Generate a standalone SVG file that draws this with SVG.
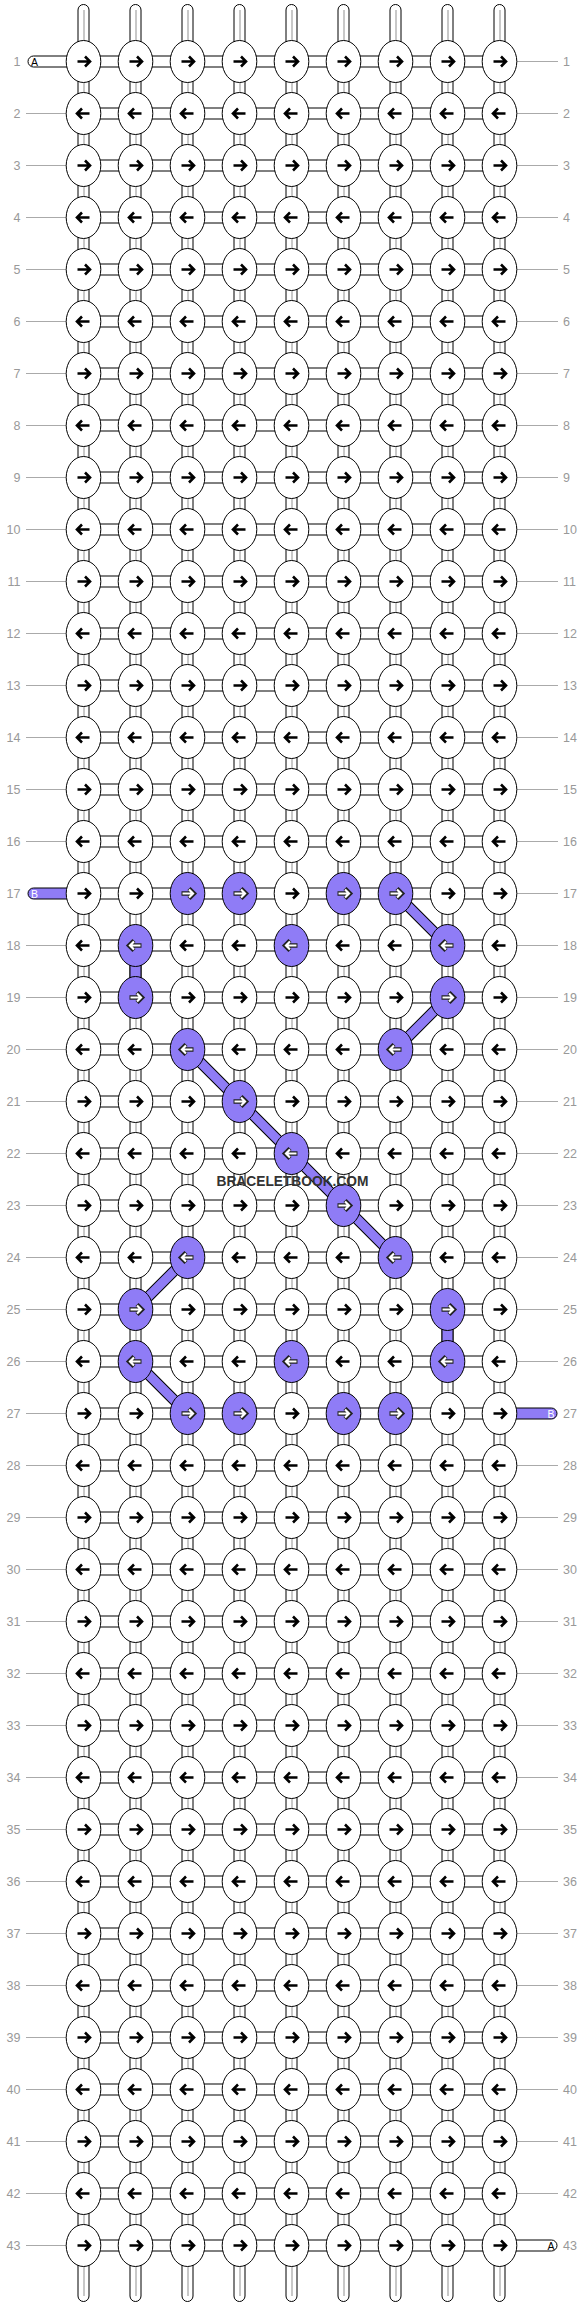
<svg xmlns="http://www.w3.org/2000/svg" xmlns:xlink="http://www.w3.org/1999/xlink" width="584" height="2308" viewBox="0 0 584 2308">
<style>
.kw{fill:#fff;stroke:#000;stroke-width:1}
.kp{fill:#8f7cf6;stroke:#000;stroke-width:1}
.aw{fill:none;stroke:#000;stroke-width:2.6}
.ao{fill:none;stroke:#222;stroke-width:4.4}
.ai{fill:none;stroke:#fff;stroke-width:2.2}
.tube{fill:#fff;stroke:#000;stroke-width:1}
.core{stroke:#c8c8c8;stroke-width:2}
.hc{fill:#fff;stroke:#000;stroke-width:1}
.gl{stroke:#aaa;stroke-width:1}
.lb{font-family:"Liberation Sans",Arial,sans-serif;font-size:12.5px;fill:#999}
.lbl{text-anchor:end}
.dgo{stroke:#000;stroke-width:11;stroke-linecap:butt}
.dgi{stroke:#8f7cf6;stroke-width:9;stroke-linecap:butt}
.pv{fill:#8f7cf6;stroke:#000;stroke-width:1}
.tl{font-family:"Liberation Sans",Arial,sans-serif;font-size:10.5px}
.wm{font-family:"Liberation Sans",Arial,sans-serif;font-weight:bold;font-size:14.5px;fill:#333;text-anchor:middle}
</style>
<defs>
<g id="R"><ellipse class="kw" rx="17.3" ry="21"/><path class="aw" d="M-6,0H6.5M1.5,-5L6.5,0L1.5,5"/></g>
<g id="L"><ellipse class="kw" rx="17.3" ry="21"/><path class="aw" d="M6,0H-6.5M-1.5,-5L-6.5,0L-1.5,5"/></g>
<g id="PR"><ellipse class="kp" rx="17.3" ry="21"/><path class="ao" d="M-6,0H6.5M1.5,-5L6.5,0L1.5,5"/><path class="ai" d="M-5,0H5.5M1.5,-4L5.5,0L1.5,4"/></g>
<g id="PL"><ellipse class="kp" rx="17.3" ry="21"/><path class="ao" d="M6,0H-6.5M-1.5,-5L-6.5,0L-1.5,5"/><path class="ai" d="M5,0H-5.5M-1.5,-4L-5.5,0L-1.5,4"/></g>
</defs>
<rect width="584" height="2308" fill="#fff"/>
<g id="connectors">
<g id="strands">
<rect class="tube" x="78" y="4.5" width="11" height="2297" rx="5.5"/>
<rect class="tube" x="130" y="4.5" width="11" height="2297" rx="5.5"/>
<rect class="tube" x="182" y="4.5" width="11" height="2297" rx="5.5"/>
<rect class="tube" x="234" y="4.5" width="11" height="2297" rx="5.5"/>
<rect class="tube" x="286" y="4.5" width="11" height="2297" rx="5.5"/>
<rect class="tube" x="338" y="4.5" width="11" height="2297" rx="5.5"/>
<rect class="tube" x="390" y="4.5" width="11" height="2297" rx="5.5"/>
<rect class="tube" x="442" y="4.5" width="11" height="2297" rx="5.5"/>
<rect class="tube" x="494" y="4.5" width="11" height="2297" rx="5.5"/>
<path class="core" d="M84,10V2296M136,10V2296M188,10V2296M240,10V2296M292,10V2296M344,10V2296M396,10V2296M448,10V2296M500,10V2296"/>
</g>
<g id="hconn">
<rect class="hc" x="83.5" y="56" width="416" height="11"/>
<rect class="hc" x="83.5" y="108" width="416" height="11"/>
<rect class="hc" x="83.5" y="160" width="416" height="11"/>
<rect class="hc" x="83.5" y="212" width="416" height="11"/>
<rect class="hc" x="83.5" y="264" width="416" height="11"/>
<rect class="hc" x="83.5" y="316" width="416" height="11"/>
<rect class="hc" x="83.5" y="368" width="416" height="11"/>
<rect class="hc" x="83.5" y="420" width="416" height="11"/>
<rect class="hc" x="83.5" y="472" width="416" height="11"/>
<rect class="hc" x="83.5" y="524" width="416" height="11"/>
<rect class="hc" x="83.5" y="576" width="416" height="11"/>
<rect class="hc" x="83.5" y="628" width="416" height="11"/>
<rect class="hc" x="83.5" y="680" width="416" height="11"/>
<rect class="hc" x="83.5" y="732" width="416" height="11"/>
<rect class="hc" x="83.5" y="784" width="416" height="11"/>
<rect class="hc" x="83.5" y="836" width="416" height="11"/>
<rect class="hc" x="83.5" y="888" width="416" height="11"/>
<rect class="hc" x="83.5" y="940" width="416" height="11"/>
<rect class="hc" x="83.5" y="992" width="416" height="11"/>
<rect class="hc" x="83.5" y="1044" width="416" height="11"/>
<rect class="hc" x="83.5" y="1096" width="416" height="11"/>
<rect class="hc" x="83.5" y="1148" width="416" height="11"/>
<rect class="hc" x="83.5" y="1200" width="416" height="11"/>
<rect class="hc" x="83.5" y="1252" width="416" height="11"/>
<rect class="hc" x="83.5" y="1304" width="416" height="11"/>
<rect class="hc" x="83.5" y="1356" width="416" height="11"/>
<rect class="hc" x="83.5" y="1408" width="416" height="11"/>
<rect class="hc" x="83.5" y="1460" width="416" height="11"/>
<rect class="hc" x="83.5" y="1512" width="416" height="11"/>
<rect class="hc" x="83.5" y="1564" width="416" height="11"/>
<rect class="hc" x="83.5" y="1616" width="416" height="11"/>
<rect class="hc" x="83.5" y="1668" width="416" height="11"/>
<rect class="hc" x="83.5" y="1720" width="416" height="11"/>
<rect class="hc" x="83.5" y="1772" width="416" height="11"/>
<rect class="hc" x="83.5" y="1824" width="416" height="11"/>
<rect class="hc" x="83.5" y="1876" width="416" height="11"/>
<rect class="hc" x="83.5" y="1928" width="416" height="11"/>
<rect class="hc" x="83.5" y="1980" width="416" height="11"/>
<rect class="hc" x="83.5" y="2032" width="416" height="11"/>
<rect class="hc" x="83.5" y="2084" width="416" height="11"/>
<rect class="hc" x="83.5" y="2136" width="416" height="11"/>
<rect class="hc" x="83.5" y="2188" width="416" height="11"/>
<rect class="hc" x="83.5" y="2240" width="416" height="11"/>
</g>
<g id="tails">
<rect class="tube" x="28" y="56" width="60" height="11" rx="5.5"/>
<text class="tl" x="31" y="65.5" fill="#000">A</text>
<rect class="pv" x="28" y="888" width="60" height="11" rx="5.5"/>
<text class="tl" x="31" y="897.5" fill="#fff">B</text>
<rect class="pv" x="495" y="1408" width="62" height="11" rx="5.5"/>
<text class="tl" x="554.5" y="1417.5" fill="#fff" text-anchor="end">B</text>
<rect class="tube" x="495" y="2240" width="62" height="11" rx="5.5"/>
<text class="tl" x="554.5" y="2249.5" fill="#000" text-anchor="end">A</text>
</g>
<g id="purple-path">
<rect class="pv" x="130" y="945.5" width="11" height="52"/>
<rect class="pv" x="442" y="1309.5" width="11" height="52"/>
<path class="dgo" d="M395.5,893.5L447.5,945.5M447.5,997.5L395.5,1049.5M187.5,1049.5L395.5,1257.5M187.5,1257.5L135.5,1309.5M135.5,1361.5L187.5,1413.5"/>
<path class="dgi" d="M395.5,893.5L447.5,945.5M447.5,997.5L395.5,1049.5M187.5,1049.5L395.5,1257.5M187.5,1257.5L135.5,1309.5M135.5,1361.5L187.5,1413.5"/>
</g>
<g id="label-lines">
<path class="gl" d="M26,113.5H66M26,165.5H66M26,217.5H66M26,269.5H66M26,321.5H66M26,373.5H66M26,425.5H66M26,477.5H66M26,529.5H66M26,581.5H66M26,633.5H66M26,685.5H66M26,737.5H66M26,789.5H66M26,841.5H66M26,945.5H66M26,997.5H66M26,1049.5H66M26,1101.5H66M26,1153.5H66M26,1205.5H66M26,1257.5H66M26,1309.5H66M26,1361.5H66M26,1413.5H66M26,1465.5H66M26,1517.5H66M26,1569.5H66M26,1621.5H66M26,1673.5H66M26,1725.5H66M26,1777.5H66M26,1829.5H66M26,1881.5H66M26,1933.5H66M26,1985.5H66M26,2037.5H66M26,2089.5H66M26,2141.5H66M26,2193.5H66M26,2245.5H66"/>
<path class="gl" d="M517,61.5H558M517,113.5H558M517,165.5H558M517,217.5H558M517,269.5H558M517,321.5H558M517,373.5H558M517,425.5H558M517,477.5H558M517,529.5H558M517,581.5H558M517,633.5H558M517,685.5H558M517,737.5H558M517,789.5H558M517,841.5H558M517,893.5H558M517,945.5H558M517,997.5H558M517,1049.5H558M517,1101.5H558M517,1153.5H558M517,1205.5H558M517,1257.5H558M517,1309.5H558M517,1361.5H558M517,1465.5H558M517,1517.5H558M517,1569.5H558M517,1621.5H558M517,1673.5H558M517,1725.5H558M517,1777.5H558M517,1829.5H558M517,1881.5H558M517,1933.5H558M517,1985.5H558M517,2037.5H558M517,2089.5H558M517,2141.5H558M517,2193.5H558"/>
</g>
</g>
<g id="labels" class="lb">
<g class="lbl">
<text x="20.5" y="66">1</text><text x="20.5" y="118">2</text><text x="20.5" y="170">3</text><text x="20.5" y="222">4</text><text x="20.5" y="274">5</text><text x="20.5" y="326">6</text><text x="20.5" y="378">7</text><text x="20.5" y="430">8</text><text x="20.5" y="482">9</text><text x="20.5" y="534">10</text><text x="20.5" y="586">11</text><text x="20.5" y="638">12</text><text x="20.5" y="690">13</text><text x="20.5" y="742">14</text><text x="20.5" y="794">15</text><text x="20.5" y="846">16</text><text x="20.5" y="898">17</text><text x="20.5" y="950">18</text><text x="20.5" y="1002">19</text><text x="20.5" y="1054">20</text><text x="20.5" y="1106">21</text><text x="20.5" y="1158">22</text><text x="20.5" y="1210">23</text><text x="20.5" y="1262">24</text><text x="20.5" y="1314">25</text><text x="20.5" y="1366">26</text><text x="20.5" y="1418">27</text><text x="20.5" y="1470">28</text><text x="20.5" y="1522">29</text><text x="20.5" y="1574">30</text><text x="20.5" y="1626">31</text><text x="20.5" y="1678">32</text><text x="20.5" y="1730">33</text><text x="20.5" y="1782">34</text><text x="20.5" y="1834">35</text><text x="20.5" y="1886">36</text><text x="20.5" y="1938">37</text><text x="20.5" y="1990">38</text><text x="20.5" y="2042">39</text><text x="20.5" y="2094">40</text><text x="20.5" y="2146">41</text><text x="20.5" y="2198">42</text><text x="20.5" y="2250">43</text>
</g>
<g>
<text x="563" y="66">1</text><text x="563" y="118">2</text><text x="563" y="170">3</text><text x="563" y="222">4</text><text x="563" y="274">5</text><text x="563" y="326">6</text><text x="563" y="378">7</text><text x="563" y="430">8</text><text x="563" y="482">9</text><text x="563" y="534">10</text><text x="563" y="586">11</text><text x="563" y="638">12</text><text x="563" y="690">13</text><text x="563" y="742">14</text><text x="563" y="794">15</text><text x="563" y="846">16</text><text x="563" y="898">17</text><text x="563" y="950">18</text><text x="563" y="1002">19</text><text x="563" y="1054">20</text><text x="563" y="1106">21</text><text x="563" y="1158">22</text><text x="563" y="1210">23</text><text x="563" y="1262">24</text><text x="563" y="1314">25</text><text x="563" y="1366">26</text><text x="563" y="1418">27</text><text x="563" y="1470">28</text><text x="563" y="1522">29</text><text x="563" y="1574">30</text><text x="563" y="1626">31</text><text x="563" y="1678">32</text><text x="563" y="1730">33</text><text x="563" y="1782">34</text><text x="563" y="1834">35</text><text x="563" y="1886">36</text><text x="563" y="1938">37</text><text x="563" y="1990">38</text><text x="563" y="2042">39</text><text x="563" y="2094">40</text><text x="563" y="2146">41</text><text x="563" y="2198">42</text><text x="563" y="2250">43</text>
</g>
</g>
<g id="knots">
<g id="row1" transform="translate(0,61.5)"><g id="n1-1"><use href="#R" x="83.5"/></g><g id="n1-2"><use href="#R" x="135.5"/></g><g id="n1-3"><use href="#R" x="187.5"/></g><g id="n1-4"><use href="#R" x="239.5"/></g><g id="n1-5"><use href="#R" x="291.5"/></g><g id="n1-6"><use href="#R" x="343.5"/></g><g id="n1-7"><use href="#R" x="395.5"/></g><g id="n1-8"><use href="#R" x="447.5"/></g><g id="n1-9"><use href="#R" x="499.5"/></g></g>
<g id="row2" transform="translate(0,113.5)"><g id="n2-1"><use href="#L" x="83.5"/></g><g id="n2-2"><use href="#L" x="135.5"/></g><g id="n2-3"><use href="#L" x="187.5"/></g><g id="n2-4"><use href="#L" x="239.5"/></g><g id="n2-5"><use href="#L" x="291.5"/></g><g id="n2-6"><use href="#L" x="343.5"/></g><g id="n2-7"><use href="#L" x="395.5"/></g><g id="n2-8"><use href="#L" x="447.5"/></g><g id="n2-9"><use href="#L" x="499.5"/></g></g>
<g id="row3" transform="translate(0,165.5)"><g id="n3-1"><use href="#R" x="83.5"/></g><g id="n3-2"><use href="#R" x="135.5"/></g><g id="n3-3"><use href="#R" x="187.5"/></g><g id="n3-4"><use href="#R" x="239.5"/></g><g id="n3-5"><use href="#R" x="291.5"/></g><g id="n3-6"><use href="#R" x="343.5"/></g><g id="n3-7"><use href="#R" x="395.5"/></g><g id="n3-8"><use href="#R" x="447.5"/></g><g id="n3-9"><use href="#R" x="499.5"/></g></g>
<g id="row4" transform="translate(0,217.5)"><g id="n4-1"><use href="#L" x="83.5"/></g><g id="n4-2"><use href="#L" x="135.5"/></g><g id="n4-3"><use href="#L" x="187.5"/></g><g id="n4-4"><use href="#L" x="239.5"/></g><g id="n4-5"><use href="#L" x="291.5"/></g><g id="n4-6"><use href="#L" x="343.5"/></g><g id="n4-7"><use href="#L" x="395.5"/></g><g id="n4-8"><use href="#L" x="447.5"/></g><g id="n4-9"><use href="#L" x="499.5"/></g></g>
<g id="row5" transform="translate(0,269.5)"><g id="n5-1"><use href="#R" x="83.5"/></g><g id="n5-2"><use href="#R" x="135.5"/></g><g id="n5-3"><use href="#R" x="187.5"/></g><g id="n5-4"><use href="#R" x="239.5"/></g><g id="n5-5"><use href="#R" x="291.5"/></g><g id="n5-6"><use href="#R" x="343.5"/></g><g id="n5-7"><use href="#R" x="395.5"/></g><g id="n5-8"><use href="#R" x="447.5"/></g><g id="n5-9"><use href="#R" x="499.5"/></g></g>
<g id="row6" transform="translate(0,321.5)"><g id="n6-1"><use href="#L" x="83.5"/></g><g id="n6-2"><use href="#L" x="135.5"/></g><g id="n6-3"><use href="#L" x="187.5"/></g><g id="n6-4"><use href="#L" x="239.5"/></g><g id="n6-5"><use href="#L" x="291.5"/></g><g id="n6-6"><use href="#L" x="343.5"/></g><g id="n6-7"><use href="#L" x="395.5"/></g><g id="n6-8"><use href="#L" x="447.5"/></g><g id="n6-9"><use href="#L" x="499.5"/></g></g>
<g id="row7" transform="translate(0,373.5)"><g id="n7-1"><use href="#R" x="83.5"/></g><g id="n7-2"><use href="#R" x="135.5"/></g><g id="n7-3"><use href="#R" x="187.5"/></g><g id="n7-4"><use href="#R" x="239.5"/></g><g id="n7-5"><use href="#R" x="291.5"/></g><g id="n7-6"><use href="#R" x="343.5"/></g><g id="n7-7"><use href="#R" x="395.5"/></g><g id="n7-8"><use href="#R" x="447.5"/></g><g id="n7-9"><use href="#R" x="499.5"/></g></g>
<g id="row8" transform="translate(0,425.5)"><g id="n8-1"><use href="#L" x="83.5"/></g><g id="n8-2"><use href="#L" x="135.5"/></g><g id="n8-3"><use href="#L" x="187.5"/></g><g id="n8-4"><use href="#L" x="239.5"/></g><g id="n8-5"><use href="#L" x="291.5"/></g><g id="n8-6"><use href="#L" x="343.5"/></g><g id="n8-7"><use href="#L" x="395.5"/></g><g id="n8-8"><use href="#L" x="447.5"/></g><g id="n8-9"><use href="#L" x="499.5"/></g></g>
<g id="row9" transform="translate(0,477.5)"><g id="n9-1"><use href="#R" x="83.5"/></g><g id="n9-2"><use href="#R" x="135.5"/></g><g id="n9-3"><use href="#R" x="187.5"/></g><g id="n9-4"><use href="#R" x="239.5"/></g><g id="n9-5"><use href="#R" x="291.5"/></g><g id="n9-6"><use href="#R" x="343.5"/></g><g id="n9-7"><use href="#R" x="395.5"/></g><g id="n9-8"><use href="#R" x="447.5"/></g><g id="n9-9"><use href="#R" x="499.5"/></g></g>
<g id="row10" transform="translate(0,529.5)"><g id="n10-1"><use href="#L" x="83.5"/></g><g id="n10-2"><use href="#L" x="135.5"/></g><g id="n10-3"><use href="#L" x="187.5"/></g><g id="n10-4"><use href="#L" x="239.5"/></g><g id="n10-5"><use href="#L" x="291.5"/></g><g id="n10-6"><use href="#L" x="343.5"/></g><g id="n10-7"><use href="#L" x="395.5"/></g><g id="n10-8"><use href="#L" x="447.5"/></g><g id="n10-9"><use href="#L" x="499.5"/></g></g>
<g id="row11" transform="translate(0,581.5)"><g id="n11-1"><use href="#R" x="83.5"/></g><g id="n11-2"><use href="#R" x="135.5"/></g><g id="n11-3"><use href="#R" x="187.5"/></g><g id="n11-4"><use href="#R" x="239.5"/></g><g id="n11-5"><use href="#R" x="291.5"/></g><g id="n11-6"><use href="#R" x="343.5"/></g><g id="n11-7"><use href="#R" x="395.5"/></g><g id="n11-8"><use href="#R" x="447.5"/></g><g id="n11-9"><use href="#R" x="499.5"/></g></g>
<g id="row12" transform="translate(0,633.5)"><g id="n12-1"><use href="#L" x="83.5"/></g><g id="n12-2"><use href="#L" x="135.5"/></g><g id="n12-3"><use href="#L" x="187.5"/></g><g id="n12-4"><use href="#L" x="239.5"/></g><g id="n12-5"><use href="#L" x="291.5"/></g><g id="n12-6"><use href="#L" x="343.5"/></g><g id="n12-7"><use href="#L" x="395.5"/></g><g id="n12-8"><use href="#L" x="447.5"/></g><g id="n12-9"><use href="#L" x="499.5"/></g></g>
<g id="row13" transform="translate(0,685.5)"><g id="n13-1"><use href="#R" x="83.5"/></g><g id="n13-2"><use href="#R" x="135.5"/></g><g id="n13-3"><use href="#R" x="187.5"/></g><g id="n13-4"><use href="#R" x="239.5"/></g><g id="n13-5"><use href="#R" x="291.5"/></g><g id="n13-6"><use href="#R" x="343.5"/></g><g id="n13-7"><use href="#R" x="395.5"/></g><g id="n13-8"><use href="#R" x="447.5"/></g><g id="n13-9"><use href="#R" x="499.5"/></g></g>
<g id="row14" transform="translate(0,737.5)"><g id="n14-1"><use href="#L" x="83.5"/></g><g id="n14-2"><use href="#L" x="135.5"/></g><g id="n14-3"><use href="#L" x="187.5"/></g><g id="n14-4"><use href="#L" x="239.5"/></g><g id="n14-5"><use href="#L" x="291.5"/></g><g id="n14-6"><use href="#L" x="343.5"/></g><g id="n14-7"><use href="#L" x="395.5"/></g><g id="n14-8"><use href="#L" x="447.5"/></g><g id="n14-9"><use href="#L" x="499.5"/></g></g>
<g id="row15" transform="translate(0,789.5)"><g id="n15-1"><use href="#R" x="83.5"/></g><g id="n15-2"><use href="#R" x="135.5"/></g><g id="n15-3"><use href="#R" x="187.5"/></g><g id="n15-4"><use href="#R" x="239.5"/></g><g id="n15-5"><use href="#R" x="291.5"/></g><g id="n15-6"><use href="#R" x="343.5"/></g><g id="n15-7"><use href="#R" x="395.5"/></g><g id="n15-8"><use href="#R" x="447.5"/></g><g id="n15-9"><use href="#R" x="499.5"/></g></g>
<g id="row16" transform="translate(0,841.5)"><g id="n16-1"><use href="#L" x="83.5"/></g><g id="n16-2"><use href="#L" x="135.5"/></g><g id="n16-3"><use href="#L" x="187.5"/></g><g id="n16-4"><use href="#L" x="239.5"/></g><g id="n16-5"><use href="#L" x="291.5"/></g><g id="n16-6"><use href="#L" x="343.5"/></g><g id="n16-7"><use href="#L" x="395.5"/></g><g id="n16-8"><use href="#L" x="447.5"/></g><g id="n16-9"><use href="#L" x="499.5"/></g></g>
<g id="row17" transform="translate(0,893.5)"><g id="n17-1"><use href="#R" x="83.5"/></g><g id="n17-2"><use href="#R" x="135.5"/></g><g id="n17-3"><use href="#PR" x="187.5"/></g><g id="n17-4"><use href="#PR" x="239.5"/></g><g id="n17-5"><use href="#R" x="291.5"/></g><g id="n17-6"><use href="#PR" x="343.5"/></g><g id="n17-7"><use href="#PR" x="395.5"/></g><g id="n17-8"><use href="#R" x="447.5"/></g><g id="n17-9"><use href="#R" x="499.5"/></g></g>
<g id="row18" transform="translate(0,945.5)"><g id="n18-1"><use href="#L" x="83.5"/></g><g id="n18-2"><use href="#PL" x="135.5"/></g><g id="n18-3"><use href="#L" x="187.5"/></g><g id="n18-4"><use href="#L" x="239.5"/></g><g id="n18-5"><use href="#PL" x="291.5"/></g><g id="n18-6"><use href="#L" x="343.5"/></g><g id="n18-7"><use href="#L" x="395.5"/></g><g id="n18-8"><use href="#PL" x="447.5"/></g><g id="n18-9"><use href="#L" x="499.5"/></g></g>
<g id="row19" transform="translate(0,997.5)"><g id="n19-1"><use href="#R" x="83.5"/></g><g id="n19-2"><use href="#PR" x="135.5"/></g><g id="n19-3"><use href="#R" x="187.5"/></g><g id="n19-4"><use href="#R" x="239.5"/></g><g id="n19-5"><use href="#R" x="291.5"/></g><g id="n19-6"><use href="#R" x="343.5"/></g><g id="n19-7"><use href="#R" x="395.5"/></g><g id="n19-8"><use href="#PR" x="447.5"/></g><g id="n19-9"><use href="#R" x="499.5"/></g></g>
<g id="row20" transform="translate(0,1049.5)"><g id="n20-1"><use href="#L" x="83.5"/></g><g id="n20-2"><use href="#L" x="135.5"/></g><g id="n20-3"><use href="#PL" x="187.5"/></g><g id="n20-4"><use href="#L" x="239.5"/></g><g id="n20-5"><use href="#L" x="291.5"/></g><g id="n20-6"><use href="#L" x="343.5"/></g><g id="n20-7"><use href="#PL" x="395.5"/></g><g id="n20-8"><use href="#L" x="447.5"/></g><g id="n20-9"><use href="#L" x="499.5"/></g></g>
<g id="row21" transform="translate(0,1101.5)"><g id="n21-1"><use href="#R" x="83.5"/></g><g id="n21-2"><use href="#R" x="135.5"/></g><g id="n21-3"><use href="#R" x="187.5"/></g><g id="n21-4"><use href="#PR" x="239.5"/></g><g id="n21-5"><use href="#R" x="291.5"/></g><g id="n21-6"><use href="#R" x="343.5"/></g><g id="n21-7"><use href="#R" x="395.5"/></g><g id="n21-8"><use href="#R" x="447.5"/></g><g id="n21-9"><use href="#R" x="499.5"/></g></g>
<g id="row22" transform="translate(0,1153.5)"><g id="n22-1"><use href="#L" x="83.5"/></g><g id="n22-2"><use href="#L" x="135.5"/></g><g id="n22-3"><use href="#L" x="187.5"/></g><g id="n22-4"><use href="#L" x="239.5"/></g><g id="n22-5"><use href="#PL" x="291.5"/></g><g id="n22-6"><use href="#L" x="343.5"/></g><g id="n22-7"><use href="#L" x="395.5"/></g><g id="n22-8"><use href="#L" x="447.5"/></g><g id="n22-9"><use href="#L" x="499.5"/></g></g>
<g id="row23" transform="translate(0,1205.5)"><g id="n23-1"><use href="#R" x="83.5"/></g><g id="n23-2"><use href="#R" x="135.5"/></g><g id="n23-3"><use href="#R" x="187.5"/></g><g id="n23-4"><use href="#R" x="239.5"/></g><g id="n23-5"><use href="#R" x="291.5"/></g><g id="n23-6"><use href="#PR" x="343.5"/></g><g id="n23-7"><use href="#R" x="395.5"/></g><g id="n23-8"><use href="#R" x="447.5"/></g><g id="n23-9"><use href="#R" x="499.5"/></g></g>
<g id="row24" transform="translate(0,1257.5)"><g id="n24-1"><use href="#L" x="83.5"/></g><g id="n24-2"><use href="#L" x="135.5"/></g><g id="n24-3"><use href="#PL" x="187.5"/></g><g id="n24-4"><use href="#L" x="239.5"/></g><g id="n24-5"><use href="#L" x="291.5"/></g><g id="n24-6"><use href="#L" x="343.5"/></g><g id="n24-7"><use href="#PL" x="395.5"/></g><g id="n24-8"><use href="#L" x="447.5"/></g><g id="n24-9"><use href="#L" x="499.5"/></g></g>
<g id="row25" transform="translate(0,1309.5)"><g id="n25-1"><use href="#R" x="83.5"/></g><g id="n25-2"><use href="#PR" x="135.5"/></g><g id="n25-3"><use href="#R" x="187.5"/></g><g id="n25-4"><use href="#R" x="239.5"/></g><g id="n25-5"><use href="#R" x="291.5"/></g><g id="n25-6"><use href="#R" x="343.5"/></g><g id="n25-7"><use href="#R" x="395.5"/></g><g id="n25-8"><use href="#PR" x="447.5"/></g><g id="n25-9"><use href="#R" x="499.5"/></g></g>
<g id="row26" transform="translate(0,1361.5)"><g id="n26-1"><use href="#L" x="83.5"/></g><g id="n26-2"><use href="#PL" x="135.5"/></g><g id="n26-3"><use href="#L" x="187.5"/></g><g id="n26-4"><use href="#L" x="239.5"/></g><g id="n26-5"><use href="#PL" x="291.5"/></g><g id="n26-6"><use href="#L" x="343.5"/></g><g id="n26-7"><use href="#L" x="395.5"/></g><g id="n26-8"><use href="#PL" x="447.5"/></g><g id="n26-9"><use href="#L" x="499.5"/></g></g>
<g id="row27" transform="translate(0,1413.5)"><g id="n27-1"><use href="#R" x="83.5"/></g><g id="n27-2"><use href="#R" x="135.5"/></g><g id="n27-3"><use href="#PR" x="187.5"/></g><g id="n27-4"><use href="#PR" x="239.5"/></g><g id="n27-5"><use href="#R" x="291.5"/></g><g id="n27-6"><use href="#PR" x="343.5"/></g><g id="n27-7"><use href="#PR" x="395.5"/></g><g id="n27-8"><use href="#R" x="447.5"/></g><g id="n27-9"><use href="#R" x="499.5"/></g></g>
<g id="row28" transform="translate(0,1465.5)"><g id="n28-1"><use href="#L" x="83.5"/></g><g id="n28-2"><use href="#L" x="135.5"/></g><g id="n28-3"><use href="#L" x="187.5"/></g><g id="n28-4"><use href="#L" x="239.5"/></g><g id="n28-5"><use href="#L" x="291.5"/></g><g id="n28-6"><use href="#L" x="343.5"/></g><g id="n28-7"><use href="#L" x="395.5"/></g><g id="n28-8"><use href="#L" x="447.5"/></g><g id="n28-9"><use href="#L" x="499.5"/></g></g>
<g id="row29" transform="translate(0,1517.5)"><g id="n29-1"><use href="#R" x="83.5"/></g><g id="n29-2"><use href="#R" x="135.5"/></g><g id="n29-3"><use href="#R" x="187.5"/></g><g id="n29-4"><use href="#R" x="239.5"/></g><g id="n29-5"><use href="#R" x="291.5"/></g><g id="n29-6"><use href="#R" x="343.5"/></g><g id="n29-7"><use href="#R" x="395.5"/></g><g id="n29-8"><use href="#R" x="447.5"/></g><g id="n29-9"><use href="#R" x="499.5"/></g></g>
<g id="row30" transform="translate(0,1569.5)"><g id="n30-1"><use href="#L" x="83.5"/></g><g id="n30-2"><use href="#L" x="135.5"/></g><g id="n30-3"><use href="#L" x="187.5"/></g><g id="n30-4"><use href="#L" x="239.5"/></g><g id="n30-5"><use href="#L" x="291.5"/></g><g id="n30-6"><use href="#L" x="343.5"/></g><g id="n30-7"><use href="#L" x="395.5"/></g><g id="n30-8"><use href="#L" x="447.5"/></g><g id="n30-9"><use href="#L" x="499.5"/></g></g>
<g id="row31" transform="translate(0,1621.5)"><g id="n31-1"><use href="#R" x="83.5"/></g><g id="n31-2"><use href="#R" x="135.5"/></g><g id="n31-3"><use href="#R" x="187.5"/></g><g id="n31-4"><use href="#R" x="239.5"/></g><g id="n31-5"><use href="#R" x="291.5"/></g><g id="n31-6"><use href="#R" x="343.5"/></g><g id="n31-7"><use href="#R" x="395.5"/></g><g id="n31-8"><use href="#R" x="447.5"/></g><g id="n31-9"><use href="#R" x="499.5"/></g></g>
<g id="row32" transform="translate(0,1673.5)"><g id="n32-1"><use href="#L" x="83.5"/></g><g id="n32-2"><use href="#L" x="135.5"/></g><g id="n32-3"><use href="#L" x="187.5"/></g><g id="n32-4"><use href="#L" x="239.5"/></g><g id="n32-5"><use href="#L" x="291.5"/></g><g id="n32-6"><use href="#L" x="343.5"/></g><g id="n32-7"><use href="#L" x="395.5"/></g><g id="n32-8"><use href="#L" x="447.5"/></g><g id="n32-9"><use href="#L" x="499.5"/></g></g>
<g id="row33" transform="translate(0,1725.5)"><g id="n33-1"><use href="#R" x="83.5"/></g><g id="n33-2"><use href="#R" x="135.5"/></g><g id="n33-3"><use href="#R" x="187.5"/></g><g id="n33-4"><use href="#R" x="239.5"/></g><g id="n33-5"><use href="#R" x="291.5"/></g><g id="n33-6"><use href="#R" x="343.5"/></g><g id="n33-7"><use href="#R" x="395.5"/></g><g id="n33-8"><use href="#R" x="447.5"/></g><g id="n33-9"><use href="#R" x="499.5"/></g></g>
<g id="row34" transform="translate(0,1777.5)"><g id="n34-1"><use href="#L" x="83.5"/></g><g id="n34-2"><use href="#L" x="135.5"/></g><g id="n34-3"><use href="#L" x="187.5"/></g><g id="n34-4"><use href="#L" x="239.5"/></g><g id="n34-5"><use href="#L" x="291.5"/></g><g id="n34-6"><use href="#L" x="343.5"/></g><g id="n34-7"><use href="#L" x="395.5"/></g><g id="n34-8"><use href="#L" x="447.5"/></g><g id="n34-9"><use href="#L" x="499.5"/></g></g>
<g id="row35" transform="translate(0,1829.5)"><g id="n35-1"><use href="#R" x="83.5"/></g><g id="n35-2"><use href="#R" x="135.5"/></g><g id="n35-3"><use href="#R" x="187.5"/></g><g id="n35-4"><use href="#R" x="239.5"/></g><g id="n35-5"><use href="#R" x="291.5"/></g><g id="n35-6"><use href="#R" x="343.5"/></g><g id="n35-7"><use href="#R" x="395.5"/></g><g id="n35-8"><use href="#R" x="447.5"/></g><g id="n35-9"><use href="#R" x="499.5"/></g></g>
<g id="row36" transform="translate(0,1881.5)"><g id="n36-1"><use href="#L" x="83.5"/></g><g id="n36-2"><use href="#L" x="135.5"/></g><g id="n36-3"><use href="#L" x="187.5"/></g><g id="n36-4"><use href="#L" x="239.5"/></g><g id="n36-5"><use href="#L" x="291.5"/></g><g id="n36-6"><use href="#L" x="343.5"/></g><g id="n36-7"><use href="#L" x="395.5"/></g><g id="n36-8"><use href="#L" x="447.5"/></g><g id="n36-9"><use href="#L" x="499.5"/></g></g>
<g id="row37" transform="translate(0,1933.5)"><g id="n37-1"><use href="#R" x="83.5"/></g><g id="n37-2"><use href="#R" x="135.5"/></g><g id="n37-3"><use href="#R" x="187.5"/></g><g id="n37-4"><use href="#R" x="239.5"/></g><g id="n37-5"><use href="#R" x="291.5"/></g><g id="n37-6"><use href="#R" x="343.5"/></g><g id="n37-7"><use href="#R" x="395.5"/></g><g id="n37-8"><use href="#R" x="447.5"/></g><g id="n37-9"><use href="#R" x="499.5"/></g></g>
<g id="row38" transform="translate(0,1985.5)"><g id="n38-1"><use href="#L" x="83.5"/></g><g id="n38-2"><use href="#L" x="135.5"/></g><g id="n38-3"><use href="#L" x="187.5"/></g><g id="n38-4"><use href="#L" x="239.5"/></g><g id="n38-5"><use href="#L" x="291.5"/></g><g id="n38-6"><use href="#L" x="343.5"/></g><g id="n38-7"><use href="#L" x="395.5"/></g><g id="n38-8"><use href="#L" x="447.5"/></g><g id="n38-9"><use href="#L" x="499.5"/></g></g>
<g id="row39" transform="translate(0,2037.5)"><g id="n39-1"><use href="#R" x="83.5"/></g><g id="n39-2"><use href="#R" x="135.5"/></g><g id="n39-3"><use href="#R" x="187.5"/></g><g id="n39-4"><use href="#R" x="239.5"/></g><g id="n39-5"><use href="#R" x="291.5"/></g><g id="n39-6"><use href="#R" x="343.5"/></g><g id="n39-7"><use href="#R" x="395.5"/></g><g id="n39-8"><use href="#R" x="447.5"/></g><g id="n39-9"><use href="#R" x="499.5"/></g></g>
<g id="row40" transform="translate(0,2089.5)"><g id="n40-1"><use href="#L" x="83.5"/></g><g id="n40-2"><use href="#L" x="135.5"/></g><g id="n40-3"><use href="#L" x="187.5"/></g><g id="n40-4"><use href="#L" x="239.5"/></g><g id="n40-5"><use href="#L" x="291.5"/></g><g id="n40-6"><use href="#L" x="343.5"/></g><g id="n40-7"><use href="#L" x="395.5"/></g><g id="n40-8"><use href="#L" x="447.5"/></g><g id="n40-9"><use href="#L" x="499.5"/></g></g>
<g id="row41" transform="translate(0,2141.5)"><g id="n41-1"><use href="#R" x="83.5"/></g><g id="n41-2"><use href="#R" x="135.5"/></g><g id="n41-3"><use href="#R" x="187.5"/></g><g id="n41-4"><use href="#R" x="239.5"/></g><g id="n41-5"><use href="#R" x="291.5"/></g><g id="n41-6"><use href="#R" x="343.5"/></g><g id="n41-7"><use href="#R" x="395.5"/></g><g id="n41-8"><use href="#R" x="447.5"/></g><g id="n41-9"><use href="#R" x="499.5"/></g></g>
<g id="row42" transform="translate(0,2193.5)"><g id="n42-1"><use href="#L" x="83.5"/></g><g id="n42-2"><use href="#L" x="135.5"/></g><g id="n42-3"><use href="#L" x="187.5"/></g><g id="n42-4"><use href="#L" x="239.5"/></g><g id="n42-5"><use href="#L" x="291.5"/></g><g id="n42-6"><use href="#L" x="343.5"/></g><g id="n42-7"><use href="#L" x="395.5"/></g><g id="n42-8"><use href="#L" x="447.5"/></g><g id="n42-9"><use href="#L" x="499.5"/></g></g>
<g id="row43" transform="translate(0,2245.5)"><g id="n43-1"><use href="#R" x="83.5"/></g><g id="n43-2"><use href="#R" x="135.5"/></g><g id="n43-3"><use href="#R" x="187.5"/></g><g id="n43-4"><use href="#R" x="239.5"/></g><g id="n43-5"><use href="#R" x="291.5"/></g><g id="n43-6"><use href="#R" x="343.5"/></g><g id="n43-7"><use href="#R" x="395.5"/></g><g id="n43-8"><use href="#R" x="447.5"/></g><g id="n43-9"><use href="#R" x="499.5"/></g></g>
</g>
<g id="watermark"><text class="wm" x="292.5" y="1185.5" textLength="152" lengthAdjust="spacingAndGlyphs">BRACELETBOOK.COM</text></g>
</svg>
